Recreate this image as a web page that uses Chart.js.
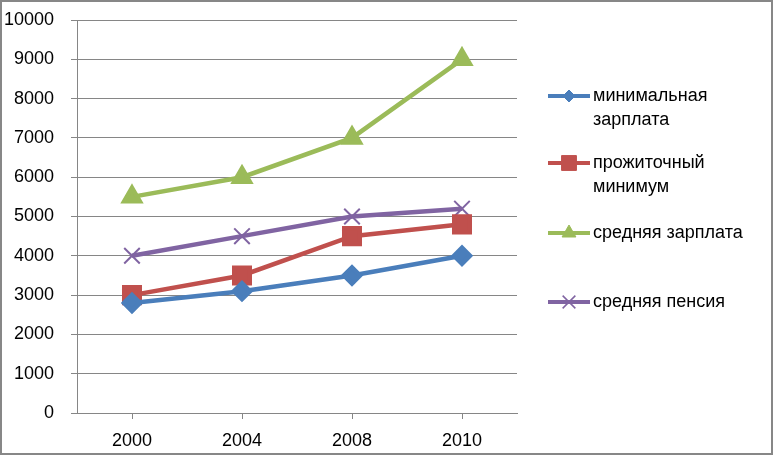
<!DOCTYPE html>
<html>
<head>
<meta charset="utf-8">
<script src="https://cdn.jsdelivr.net/npm/chart.js@4/dist/chart.umd.min.js"></script>
<style>
  body { margin: 0; background: #fff; }
  #wrap { width: 774px; height: 456px; }
</style>
</head>
<body>
<div id="wrap"><canvas id="myChart" width="774" height="456"></canvas></div>
<script>
// chart values
const years = ['2000', '2004', '2008', '2010'];
const minWage = [2800, 3100, 3500, 4000];
const livingMin = [3000, 3500, 4500, 4800];
const avgWage = [5500, 6000, 7000, 9000];
const avgPension = [4000, 4500, 5000, 5200];
const seriesNames = [['минимальная', 'зарплата'], ['прожиточный', 'минимум'], ['средняя зарплата'], ['средняя пенсия']];

const FONT = '"Liberation Sans", Arial, sans-serif';
const GRID = '#868686';

// legend drawn by hand so two-line labels look like the original
const sideLegend = {
  id: 'sideLegend',
  afterDraw(chart) {
    const c = chart.ctx;
    const rows = [96, 163, 233, 302];
    c.save();
    chart.data.datasets.forEach((ds, i) => {
      const y = rows[i];
      c.strokeStyle = ds.borderColor;
      c.fillStyle = ds.backgroundColor;
      c.lineWidth = 4;
      c.beginPath();
      c.moveTo(548, y);
      c.lineTo(590, y);
      c.stroke();
      c.lineWidth = ds.pointStyle === 'crossRot' ? 1.5 : 1;
      Chart.helpers.drawPoint(c, {
        pointStyle: ds.pointStyle,
        radius: ds.legendRadius,
        borderWidth: c.lineWidth
      }, 569, y);
      c.fillStyle = '#000';
      c.font = '18px ' + FONT;
      c.textBaseline = 'middle';
      c.textAlign = 'left';
      seriesNames[i].forEach((t, k) => c.fillText(t, 593, y + k * 24));
    });
    // outer frame
    c.strokeStyle = '#878787';
    c.lineWidth = 2;
    c.strokeRect(1, 1, 771, 453);
    c.restore();
  }
};

let ctx = document.getElementById('myChart').getContext('2d');
let myChart = new Chart(ctx, {
  type: 'line',
  data: {
    labels: years,
    datasets: [
      {
        label: 'минимальная зарплата',
        data: minWage,
        borderColor: '#4A7EBB',
        backgroundColor: '#4A7EBB',
        pointStyle: 'rectRot',
        pointRadius: 8,
        legendRadius: 6,
        borderWidth: 4.5
      },
      {
        label: 'прожиточный минимум',
        data: livingMin,
        borderColor: '#C0504D',
        backgroundColor: '#C0504D',
        pointStyle: 'rect',
        pointRadius: 11,
        legendRadius: 10.5,
        borderWidth: 4.5
      },
      {
        label: 'средняя зарплата',
        data: avgWage,
        borderColor: '#9BBB59',
        backgroundColor: '#9BBB59',
        pointStyle: 'triangle',
        pointRadius: 9,
        legendRadius: 8,
        borderWidth: 4.5
      },
      {
        label: 'средняя пенсия',
        data: avgPension,
        borderColor: '#8064A2',
        backgroundColor: '#8064A2',
        pointStyle: 'crossRot',
        pointRadius: 11,
        legendRadius: 9,
        pointBorderWidth: 2,
        borderWidth: 4.5
      }
    ]
  },
  options: {
    responsive: false,
    animation: false,
    layout: { padding: { top: 20, right: 257, left: 0, bottom: 0 } },
    plugins: {
      legend: { display: false },
      tooltip: { enabled: false }
    },
    scales: {
      x: {
        offset: true,
        grid: { drawOnChartArea: false, drawTicks: true, tickLength: 6, color: GRID },
        border: { color: GRID, width: 1 },
        ticks: { color: '#000', font: { size: 18, family: FONT }, padding: 11 },
        afterFit(scale) { scale.height = 43; }
      },
      y: {
        min: 0,
        max: 10000,
        grid: { color: GRID, tickLength: 6 },
        border: { color: GRID, width: 1 },
        ticks: {
          stepSize: 1000, color: '#000', font: { size: 18, family: FONT }, padding: 17,
          callback: v => String(v)
        },
        afterFit(scale) {
          scale.width = 77;
          scale.paddingTop = 0;
          scale.paddingBottom = 0;
        }
      }
    }
  },
  plugins: [sideLegend]
});
</script>
</body>
</html>
